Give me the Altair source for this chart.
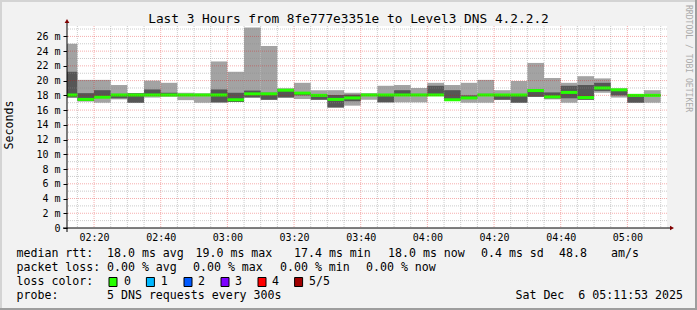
import altair as alt
import pandas as pd

# ---------------- data ----------------
# end time of each 5-minute SmokePing interval
end_times = ["02:15", "02:20", "02:25", "02:30", "02:35", "02:40", "02:45", "02:50", "02:55", "03:00",
             "03:05", "03:10", "03:15", "03:20", "03:25", "03:30", "03:35", "03:40", "03:45", "03:50",
             "03:55", "04:00", "04:05", "04:10", "04:15", "04:20", "04:25", "04:30", "04:35", "04:40",
             "04:45", "04:50", "04:55", "05:00", "05:05", "05:10"]
# outer smoke (ms): max and min ping
smoke_max = [25.0, 20.1, 20.1, 19.4, 18.3, 20.0, 19.7, 18.35, 18.3, 22.6,
             21.2, 27.2, 24.7, 18.9, 19.7, 18.7, 18.7, 18.35, 18.3, 19.3,
             19.4, 19.0, 19.7, 19.4, 19.7, 20.1, 18.7, 19.95, 22.4, 20.35,
             19.7, 20.6, 20.3, 18.95, 18.1, 18.7]
smoke_min = [17.7, 17.2, 17.0, 17.45, 17.0, 17.7, 17.8, 17.35, 17.0, 17.0,
             17.1, 17.7, 17.4, 17.7, 17.5, 17.4, 16.35, 16.6, 17.4, 17.05,
             17.05, 17.05, 17.95, 17.3, 17.0, 17.0, 17.4, 17.0, 17.8, 17.45,
             17.0, 17.4, 18.35, 17.7, 17.0, 17.0]
# inner smoke (ms)
inner_hi = [21.2, 18.3, 18.7, 18.2, 18.3, 18.8, 18.35, 18.1, 18.1, 18.8,
            18.35, 18.65, 18.35, 18.9, 18.35, 18.1, 18.05, 18.1, 18.1, 18.1,
            18.7, 18.2, 19.3, 18.7, 18.0, 18.2, 18.1, 18.1, 18.8, 18.4,
            19.3, 19.4, 19.7, 18.75, 18.1, 18.1]
inner_lo = [17.7, 17.2, 17.7, 17.6, 17.0, 18.0, 17.95, 17.95, 17.95, 17.05,
            17.1, 17.7, 17.4, 17.7, 18.0, 17.4, 16.35, 17.2, 17.95, 17.05,
            17.95, 17.95, 17.95, 17.3, 17.5, 17.95, 17.4, 17.0, 17.8, 17.6,
            17.6, 17.4, 18.6, 18.0, 17.0, 17.95]
median = [18.05, 17.45, 17.75, 18.05, 18.05, 18.05, 18.05, 18.05, 18.05, 18.05,
          17.4, 18.2, 18.2, 18.7, 18.3, 18.0, 17.45, 17.65, 18.05, 18.05,
          18.05, 18.05, 18.05, 17.4, 17.65, 18.05, 18.05, 18.05, 18.65, 17.8,
          18.4, 17.7, 19.0, 18.75, 18.0, 18.0]

y_labels = [0, 2, 4, 6, 8, 10, 12, 14, 16, 18, 20, 22, 24, 26]
x_labels = ["02:20", "02:40", "03:00", "03:20", "03:40", "04:00", "04:20", "04:40", "05:00"]

loss_names = ["0", "1", "2", "3", "4", "5/5"]
loss_colors = ["#26ff00", "#00b8ff", "#0059ff", "#7e00ff", "#ff0000", "#a10000"]

title_text = "Last 3 Hours from 8fe777e3351e to Level3 DNS 4.2.2.2"
rtt_stats = ["18.0 ms avg", "19.0 ms max", "17.4 ms min", "18.0 ms now", "0.4 ms sd", "48.8", "am/s"]
loss_stats = ["0.00 % avg", "0.00 % max", "0.00 % min", "0.00 % now"]
probe_text = "5 DNS requests every 300s"
date_text = "Sat Dec\u00a0\u00a06 05:11:53 2025"

# ---------------- helpers ----------------
def to_min(s):
    h, m = s.split(":")
    return int(h) * 60 + int(m)

t_start = to_min("02:11") + 53 / 60.0
t_end = to_min("05:11") + 53 / 60.0

ends = [to_min(t) for t in end_times]
df = pd.DataFrame({
    "start": [e - 5 for e in ends], "end": ends,
    "smax": smoke_max, "smin": smoke_min,
    "ihi": inner_hi, "ilo": inner_lo, "med": median,
})

MONO = "DejaVu Sans Mono"
W, H = 600, 202

xs = alt.Scale(domain=[t_start, t_end], nice=False, zero=False)
ys = alt.Scale(domain=[0, 27.41], nice=False, zero=False)

x_vals = [to_min(t) for t in x_labels]
xaxis = alt.Axis(values=x_vals, title=None, grid=False, domain=False, ticks=False,
                 labelFont=MONO, labelFontSize=10, labelColor="black", labelPadding=4,
                 labelFlush=False, labelOverlap=False,
                 labelExpr="(floor(datum.value/60) < 10 ? '0' : '') + floor(datum.value/60) + ':' + "
                           "(datum.value % 60 < 10 ? '0' : '') + (datum.value % 60)")
yaxis = alt.Axis(values=y_labels, title=None, grid=False, domain=False, ticks=True,
                 tickColor="black", tickSize=4, labelPadding=3,
                 labelFont=MONO, labelFontSize=10, labelColor="black",
                 labelFlush=False, labelOverlap=False,
                 labelExpr="datum.value == 0 ? '0\u00a0\u00a0' : datum.value + ' m'")


def X(f):
    return alt.X(f, type="quantitative", scale=xs, axis=xaxis)


def Y(f):
    return alt.Y(f, type="quantitative", scale=ys, axis=yaxis)


base = alt.Chart(df)

outer = base.mark_rect(color="#a3a3a3", clip=True).encode(
    x=X("start"), x2="end", y=Y("smin"), y2="smax")
inner = base.mark_rect(color="#565656", clip=True).encode(
    x=X("start"), x2="end", y=Y("ilo"), y2="ihi")
med_line = base.mark_rule(color=loss_colors[0], strokeWidth=3, strokeCap="butt", clip=True).encode(
    x=X("start"), x2="end", y=Y("med"))

# grid lines
minor_x = [v for v in range(135, 315, 5) if v % 20 != 0]
major_x = x_vals
minor_y = list(range(1, 28, 2))
major_y = y_labels[1:]

g_minor_x = alt.Chart(pd.DataFrame({"v": minor_x})).mark_rule(
    color="#8c8c8c", opacity=0.45, strokeDash=[1, 1], strokeWidth=1).encode(x=X("v"))
g_major_x = alt.Chart(pd.DataFrame({"v": major_x})).mark_rule(
    color="#e00000", opacity=0.32, strokeDash=[1, 1], strokeWidth=1).encode(x=X("v"))
g_minor_y = alt.Chart(pd.DataFrame({"v": minor_y})).mark_rule(
    color="#8c8c8c", opacity=0.45, strokeDash=[1, 1], strokeWidth=1).encode(y=Y("v"))
g_major_y = alt.Chart(pd.DataFrame({"v": major_y})).mark_rule(
    color="#e00000", opacity=0.32, strokeDash=[1, 1], strokeWidth=1).encode(y=Y("v"))

one = pd.DataFrame({"a": [0]})


def rule(x, x2, y, y2, color, w=1):
    return alt.Chart(one).mark_rule(color=color, strokeWidth=w).encode(
        x=alt.value(x), x2=alt.value(x2), y=alt.value(y), y2=alt.value(y2))


def txt(s, x, y, size=11.6, align="left", angle=0, color="black", baseline="middle"):
    kw = dict(font=MONO, fontSize=size, align=align, baseline=baseline, color=color)
    if angle:
        kw["angle"] = angle
    return alt.Chart(pd.DataFrame({"t": [s]})).mark_text(**kw).encode(
        x=alt.value(x), y=alt.value(y), text="t:N")


layers = [outer, inner, med_line, g_minor_x, g_minor_y, g_major_x, g_major_y]

# axis lines + arrows
layers.append(rule(0, 0, -3, 206, "black"))
layers.append(rule(-4, 604, H, H, "black"))
layers.append(alt.Chart(one).mark_point(shape="triangle-up", filled=True, color="#7f0000", size=22, opacity=1)
              .encode(x=alt.value(0), y=alt.value(-5)))
layers.append(alt.Chart(one).mark_point(shape="triangle-right", filled=True, color="#7f0000", size=22, opacity=1)
              .encode(x=alt.value(605), y=alt.value(H)))

# image border shading
layers.append(rule(-67, 630, -25, -25, "#d4d4d4", 2))
layers.append(rule(-66, -66, -26, 284, "#d4d4d4", 2))
layers.append(rule(629, 629, -26, 284, "#9e9e9e", 2))
layers.append(rule(-67, 630, 283, 283, "#9e9e9e", 2))

# title, y title, watermark
layers.append(txt(title_text, 281.5, -7, size=12.8, align="center"))
layers.append(txt("Seconds", -57, 99, size=11.6, align="center", angle=270))
layers.append(txt("RRDTOOL / TOBI OETIKER", 621, 32.5, size=8.1, align="center", angle=90, color="#ababab"))

# legend
row1, row2, row3, row4 = 228, 242, 256, 270
layers.append(txt("median rtt:", -50.5, row1))
for s, x in zip(rtt_stats, [40, 128.5, 227, 321, 414, 492, 544]):
    layers.append(txt(s, x, row1))
layers.append(txt("packet loss:", -50.5, row2))
for s, x in zip(loss_stats, [40, 126, 213, 299]):
    layers.append(txt(s, x, row2))
layers.append(txt("loss color:", -50.5, row3))
for name, col, bx, lx in zip(loss_names, loss_colors,
                             [42, 79.4, 117, 154, 191, 227.6],
                             [57, 93.7, 131, 168, 205, 242]):
    layers.append(alt.Chart(one).mark_rect(fill=col, stroke="black", strokeWidth=1).encode(
        x=alt.value(bx), x2=alt.value(bx + 8), y=alt.value(row3 - 4.5), y2=alt.value(row3 + 4.5)))
    layers.append(txt(name, lx, row3))
layers.append(txt("probe:", -50.5, row4))
layers.append(txt(probe_text, 40, row4))
layers.append(txt(date_text, 616, row4, align="right"))

chart = alt.layer(*layers).properties(
    width=W, height=H,
    padding={"left": 67, "top": 26, "right": 30, "bottom": 82},
    autosize=alt.AutoSizeParams(type="none"),
).configure(background="#f2f2f2").configure_view(fill="white", stroke=None)

chart.save("out.html", embed_options={"renderer": "svg", "actions": False})
